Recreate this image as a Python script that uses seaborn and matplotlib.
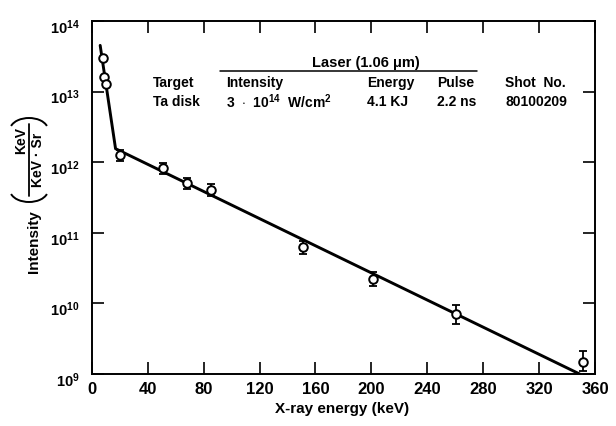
import matplotlib
matplotlib.use("Agg")
import matplotlib.pyplot as plt
import matplotlib.transforms as mtransforms
import seaborn as sns
from matplotlib.lines import Line2D
from matplotlib.patches import Arc

# Measured spectrum points (X-ray energy in keV, intensity in keV/(keV*sr))
energy = [7.7, 8.6, 10.0, 20.0, 50.6, 68.2, 85.0, 150.8, 201.4, 260.6, 351.7]
intensity = [2.96e13, 1.63e13, 1.29e13, 1.26e12, 8.2e11, 5.0e11, 4.0e11,
             6.2e10, 2.2e10, 7.0e9, 1.5e9]
err_low = [2.96e13, 1.63e13, 1.29e13, 1.05e12, 6.9e11, 4.2e11, 3.3e11,
           5.0e10, 1.75e10, 5.1e9, 1.1e9]
err_high = [2.96e13, 1.63e13, 1.29e13, 1.50e12, 9.8e11, 6.0e11, 4.9e11,
            7.7e10, 2.75e10, 9.6e9, 2.1e9]

# Two-temperature fit drawn through the data
fit_energy = [6.0, 17.0, 349.0]
fit_intensity = [4.5e13, 1.55e12, 1.0e9]

x_ticks = [0, 40, 80, 120, 160, 200, 240, 280, 320, 360]
x_tick_labels = ["0", "40", "80", "120", "160", "200", "240", "280", "320", "360"]
y_ticks = [1e9, 1e10, 1e11, 1e12, 1e13, 1e14]
y_tick_labels = [r"$10^{9}$", r"$10^{10}$", r"$10^{11}$", r"$10^{12}$",
                 r"$10^{13}$", r"$10^{14}$"]

# Shot parameters table
table_headers = ["Target", "Intensity", "Energy", "Pulse", "Shot  No."]
table_values = ["Ta disk", r"3  $\cdot$  10$^{14}$  W/cm$^{2}$", "4.1 KJ", "2.2 ns",
                "80100209"]
laser_title = "Laser (1.06 \u03bcm)"

sns.set_style("ticks")
plt.rcParams.update({
    "font.family": ["Liberation Sans", "DejaVu Sans"],
    "font.weight": "bold",
    "font.size": 10,
    "mathtext.fontset": "custom",
    "mathtext.rm": "Liberation Sans:bold",
    "mathtext.bf": "Liberation Sans:bold",
    "mathtext.it": "Liberation Sans:bold",
    "mathtext.sf": "Liberation Sans:bold",
    "mathtext.default": "rm",
    "axes.linewidth": 1.4,
    "axes.edgecolor": "black",
    "text.color": "black",
    "xtick.color": "black",
    "ytick.color": "black",
})

W, H = 616, 426


def fx(px):
    return px / W


def fy(py):
    return 1 - py / H


fig = plt.figure(figsize=(6.16, 4.26), dpi=100)
ax = fig.add_axes([0.149, 0.122, 0.817, 0.829])

lower = [v - lo for v, lo in zip(intensity, err_low)]
upper = [hi - v for v, hi in zip(intensity, err_high)]
ax.errorbar(energy, intensity, yerr=[lower, upper], fmt="none", ecolor="black",
            elinewidth=1.3, capsize=3, capthick=1.3, zorder=3)
sns.lineplot(x=fit_energy, y=fit_intensity, ax=ax, color="black", linewidth=2.1,
             zorder=2, estimator=None, sort=False)
sns.scatterplot(x=energy, y=intensity, ax=ax, marker="o", s=38, color="white",
                edgecolor="black", linewidth=1.4, zorder=5)

ax.set_yscale("log")
ax.set_xlim(0, 360)
ax.set_ylim(1e9, 1e14)
ax.set_xticks(x_ticks)
ax.set_xticklabels(x_tick_labels)
ax.set_yticks(y_ticks)
ax.set_yticklabels(y_tick_labels)
ax.minorticks_off()
ax.tick_params(axis="both", which="major", direction="in", length=8.5, width=1.2,
               top=True, right=True)
ax.tick_params(axis="x", pad=6, labelsize=12)
ax.tick_params(axis="y", pad=9, labelsize=10.5)
shift_down = mtransforms.ScaledTranslation(0, -5 / 100, fig.dpi_scale_trans)
for lab in ax.get_xticklabels() + ax.get_yticklabels():
    lab.set_fontweight("bold")
for lab in ax.get_yticklabels():
    lab.set_transform(lab.get_transform() + shift_down)

fig.text(fx(342), fy(409), "X-ray energy (keV)", ha="center", va="center",
         fontsize=11, fontweight="bold")

# Y-axis label: Intensity (KeV / KeV·Sr), built from rotated pieces
fig.text(fx(34), fy(242), "Intensity", rotation=90, ha="center", va="center",
         fontsize=11, fontweight="bold")
fig.text(fx(21), fy(141), "KeV", rotation=90, ha="center", va="center",
         fontsize=10, fontweight="bold")
fig.text(fx(38), fy(160), "KeV \u00b7 Sr", rotation=90, ha="center", va="center",
         fontsize=10, fontweight="bold")
fig.add_artist(Line2D([fx(29), fx(29)], [fy(124), fy(196)], color="black",
                      linewidth=1.3, transform=fig.transFigure))
fig.add_artist(Arc((fx(29), fy(130)), 38 / W, 24 / H, theta1=18, theta2=162,
                   color="black", linewidth=1.4, transform=fig.transFigure))
fig.add_artist(Arc((fx(29), fy(190)), 38 / W, 24 / H, theta1=198, theta2=342,
                   color="black", linewidth=1.4, transform=fig.transFigure))

# Table of laser and target parameters
col_x = [153, 226, 367, 437, 505]
for x, head, val in zip(col_x, table_headers, table_values):
    fig.text(fx(x), fy(83), head, ha="left", va="center", fontsize=10,
             fontweight="bold")
    fig.text(fx(x), fy(102), val, ha="left", va="center", fontsize=10,
             fontweight="bold")
fig.text(fx(366), fy(63), laser_title, ha="center", va="center",
         fontsize=10.5, fontweight="bold")
fig.add_artist(Line2D([fx(220), fx(477)], [fy(71), fy(71)],
                      color="black", linewidth=1.1, transform=fig.transFigure))

fig.savefig("out.png", dpi=100, facecolor="white")
